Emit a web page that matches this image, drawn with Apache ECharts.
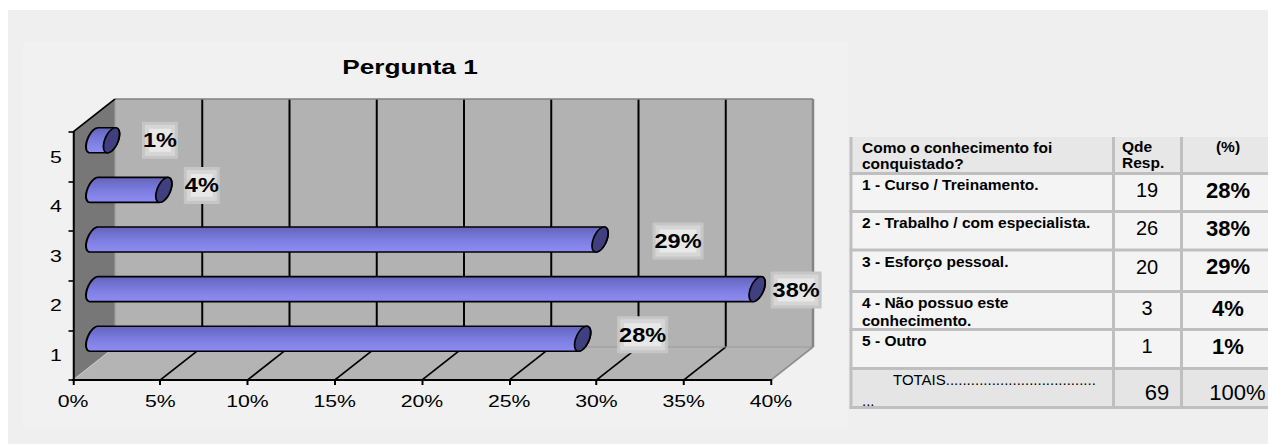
<!DOCTYPE html>
<html>
<head>
<meta charset="utf-8">
<title>Pergunta 1</title>
<script src="https://cdn.jsdelivr.net/npm/echarts@6/dist/echarts.min.js"></script>
<style>
  html, body { margin: 0; padding: 0; background: #ffffff; }
  #sheet { position: absolute; left: 8px; top: 10px; width: 1260px; height: 434px; background: #efefef; }
  #plotArea { position: absolute; left: 23px; top: 42px; width: 825px; height: 386px; background: #f1f1f1; }
  /* the chart is drawn narrow and stretched sideways, like the wide spreadsheet graphic */
  #chart { position: absolute; left: 0; top: 0; width: 680px; height: 444px; transform: scaleX(1.25); transform-origin: 0 0; }
  #table { position: absolute; left: 840px; top: 0; width: 428px; height: 444px; }
</style>
</head>
<body>
<div id="sheet"></div>
<div id="plotArea"></div>
<div id="chart"></div>
<div id="table"></div>
<script>
// ---- data ----
const chartTitle = 'Pergunta 1';
const categories = ['1', '2', '3', '4', '5'];
const answerLabels = [
  '1 - Curso / Treinamento.',
  '2 - Trabalho / com especialista.',
  '3 - Esforço pessoal.',
  '4 - Não possuo este\nconhecimento.',
  '5 - Outro'
];
const responses = [19, 26, 20, 3, 1];
const percents = [28, 38, 29, 4, 1];
const xTicks = [0, 5, 10, 15, 20, 25, 30, 35, 40];
const headerLabels = ['Como o conhecimento foi\nconquistado?', 'Qde\nResp.', '(%)'];
const totalLabel = 'TOTAIS....................................\n...';

const totalResponses = responses.reduce((a, b) => a + b, 0);
const totalPercent = percents.reduce((a, b) => a + b, 0);

// ---- layout / style ----
const SX = 1.25;                 // horizontal stretch of the chart element
const DX = 42 / SX, DY = -33;    // depth vector of the 3D box
const FONT = '"Liberation Sans", Arial, Helvetica, sans-serif';
// label position relative to the end of each cylinder (screen px)
const labelShift = [[60, -4], [39, 1], [78, 1.5], [38, -4.5], [48.5, 0]];

// cylinder end ellipse (oblique projection of a circle)
const CYL_H = 8 / SX, CYL_K = 6.3, CYL_R = 10.8;
const PHI = Math.atan2(CYL_K, CYL_R);
function ellipsePt(cx, cy, t) {
  return [cx + CYL_H * Math.sin(t), cy + CYL_R * Math.cos(t) - CYL_K * Math.sin(t)];
}
function arc(cx, cy, t0, t1, n) {
  const pts = [];
  for (let i = 0; i <= n; i++) pts.push(ellipsePt(cx, cy, t0 + (t1 - t0) * i / n));
  return pts;
}

function renderWalls(params, api) {
  const cs = params.coordSys;
  const x0 = cs.x, x1 = cs.x + cs.width, y0 = cs.y, y1 = cs.y + cs.height;
  const kids = [];
  const line = (a, b, color, w) => kids.push({
    type: 'line', shape: { x1: a[0], y1: a[1], x2: b[0], y2: b[1] },
    style: { stroke: color, lineWidth: w }
  });
  // back wall, floor, side wall
  kids.push({ type: 'rect', shape: { x: x0 + DX, y: y0 + DY, width: cs.width, height: cs.height }, style: { fill: '#b2b2b2' } });
  kids.push({ type: 'polygon', shape: { points: [[x0, y1], [x1, y1], [x1 + DX, y1 + DY], [x0 + DX, y1 + DY]] }, style: { fill: '#b4b4b4' } });
  kids.push({ type: 'polygon', shape: { points: [[x0, y0], [x0 + DX, y0 + DY], [x0 + DX, y1 + DY], [x0, y1]] }, style: { fill: '#777777' } });
  // gridlines on the back wall and the floor
  xTicks.forEach((t, i) => {
    if (i === 0 || i === xTicks.length - 1) return;
    const x = api.coord([t, 0])[0];
    line([x + DX, y0 + DY], [x + DX, y1 + DY], '#000', 1.6);
    line([x, y1], [x + DX, y1 + DY], '#000', 1.6);
  });
  line([x0 + DX, y1 + DY], [x1 + DX, y1 + DY], '#9a9a9a', 1);
  line([x0 + DX, y0 + DY], [x0 + DX, y1 + DY], '#9c9c9c', 1);
  line([x0, y1], [x0 + DX, y1 + DY], '#c8c8c8', 1);
  line([x0 + DX, y0 + DY], [x1 + DX, y0 + DY], '#808080', 1.5);
  line([x1 + DX, y0 + DY], [x1 + DX, y1 + DY], '#858585', 2);
  line([x1, y1], [x1 + DX, y1 + DY], '#8c8c8c', 1.6);
  line([x0, y0], [x0 + DX, y0 + DY], '#000', 1.6);
  return { type: 'group', children: kids };
}

const bodyFill = new echarts.graphic.LinearGradient(0, 0, 0, 1, [
  { offset: 0, color: '#6464bc' },
  { offset: 0.35, color: '#7474d4' },
  { offset: 0.55, color: '#7e7ee2' },
  { offset: 1, color: '#8c8cf2' }
]);

function renderCylinder(params, api) {
  const v = api.value(0), c = api.value(1);
  const start = api.coord([0, c]);
  const end = api.coord([v, c]);
  const sx = start[0] + DX / 2, ex = end[0] + DX / 2, cy = start[1] + DY / 2;
  const hull = arc(sx, cy, Math.PI - PHI, 2 * Math.PI - PHI, 24)
    .concat(arc(ex, cy, 2 * Math.PI - PHI, 3 * Math.PI - PHI, 24));
  const cap = arc(ex, cy, 0, 2 * Math.PI, 48);
  const off = labelShift[params.dataIndex];
  const lx = ex + off[0] / SX, ly = cy + off[1];
  const txt = v + '%';
  const bw = (15 * txt.length + 6) / SX, bh = 37;
  const box = (inset, fill) => ({
    type: 'rect',
    shape: { x: lx - bw / 2 + inset / SX, y: ly - bh / 2 + inset, width: bw - 2 * inset / SX, height: bh - 2 * inset },
    style: { fill }
  });
  return {
    type: 'group',
    children: [
      { type: 'polygon', shape: { points: hull }, style: { fill: bodyFill, stroke: '#000', lineWidth: 1.6 } },
      { type: 'polygon', shape: { points: cap }, style: { fill: '#404080', stroke: '#000', lineWidth: 1.4 } },
      box(0, '#c6c6c6'),
      box(3, '#d6d6d6'),
      box(7, '#e8e8e8'),
      {
        type: 'text', x: lx, y: ly, scaleX: 1.12 / SX,
        style: { text: txt, font: 'bold 21px ' + FONT, fill: '#000', align: 'center', verticalAlign: 'middle' }
      }
    ]
  };
}

const chart = echarts.init(document.getElementById('chart'), null, { renderer: 'svg' });
chart.setOption({
  animation: false,
  graphic: [{
    type: 'text', x: 410 / SX, y: 66,
    style: { text: chartTitle, font: 'bold 21px ' + FONT, fill: '#000', align: 'center', verticalAlign: 'middle' }
  }],
  grid: { left: 73 / SX, top: 132, width: (771 - 73) / SX, height: 248 },
  xAxis: {
    type: 'value', min: 0, max: 40, interval: 5, z: 10,
    axisLine: { show: true, lineStyle: { color: '#000', width: 2 } },
    axisTick: { show: true, length: 5, lineStyle: { color: '#000', width: 1.6 } },
    axisLabel: { color: '#000', fontSize: 17, fontFamily: FONT, margin: 13, formatter: v => v + '%' },
    splitLine: { show: false }
  },
  yAxis: {
    type: 'category', data: categories, z: 10,
    axisLine: { show: true, lineStyle: { color: '#000', width: 1.6 } },
    axisTick: { show: true, length: 3.6, lineStyle: { color: '#000', width: 1.6 } },
    axisLabel: { color: '#000', fontSize: 17, fontFamily: FONT, margin: 9 },
    splitLine: { show: false }
  },
  series: [
    { type: 'custom', z: 1, renderItem: renderWalls, data: [[0, 0]], silent: true },
    {
      type: 'custom', z: 3, renderItem: renderCylinder,
      encode: { x: 0, y: 1 },
      data: percents.map((p, i) => [p, i])
    }
  ]
});

// ---- answer table ----
const T0 = 840;
const X = v => v - T0;
const rowEdges = [137, 173.5, 211.5, 250, 291.5, 329.5, 368.5, 407.5];
const colEdges = [851, 1113.5, 1181.5];
const tableBottom = 409, tableRight = 1268;
const els = [];

rowEdges.slice(0, -1).forEach((y, r) => {
  const fill = r === 0 ? '#e7e7e7' : (r === rowEdges.length - 2 ? '#e5e5e5' : '#f4f4f4');
  els.push({ type: 'rect', shape: { x: X(colEdges[0]), y, width: tableRight - colEdges[0], height: rowEdges[r + 1] - y }, style: { fill } });
});
colEdges.forEach(cx => els.push({
  type: 'line', shape: { x1: X(cx), y1: rowEdges[0], x2: X(cx), y2: tableBottom },
  style: { stroke: '#bfbfbf', lineWidth: 3 }
}));
rowEdges.slice(1).forEach(y => els.push({
  type: 'line', shape: { x1: X(colEdges[0]) - 1.5, y1: y, x2: X(tableRight), y2: y },
  style: { stroke: '#bfbfbf', lineWidth: 3 }
}));

function addText(str, x, y, font, align) {
  els.push({ type: 'text', x: X(x), y, style: { text: str, font: font + ' ' + FONT, fill: '#000', align, verticalAlign: 'middle' } });
}
function addLines(str, x, y, gap, font, align) {
  str.split('\n').forEach((s, i) => addText(s, x, y + i * gap, font, align));
}

const LABEL_FONT = 'bold 15.5px';
addLines(headerLabels[0], 862, 147, 16, LABEL_FONT, 'left');
addLines(headerLabels[1], 1122, 146, 16, LABEL_FONT, 'left');
addText(headerLabels[2], 1228, 146.5, LABEL_FONT, 'center');

answerLabels.forEach((s, i) => {
  const top = rowEdges[i + 1];
  addLines(s, 862, top + 11, 17.5, LABEL_FONT, 'left');
  addText(String(responses[i]), 1147, top + 16.5, '20px', 'center');
  addText(percents[i] + '%', 1228, top + 16.5, 'bold 22px', 'center');
});

const totalLines = totalLabel.split('\n');
addText(totalLines[0], 893, 379.5, '15px', 'left');
addText(totalLines[1], 862, 400, '15px', 'left');
addText(String(totalResponses), 1157, 392, '22px', 'center');
addText(totalPercent + '%', 1237.5, 392, '22px', 'center');

const table = echarts.init(document.getElementById('table'), null, { renderer: 'svg' });
table.setOption({ animation: false, graphic: els });
</script>
</body>
</html>
